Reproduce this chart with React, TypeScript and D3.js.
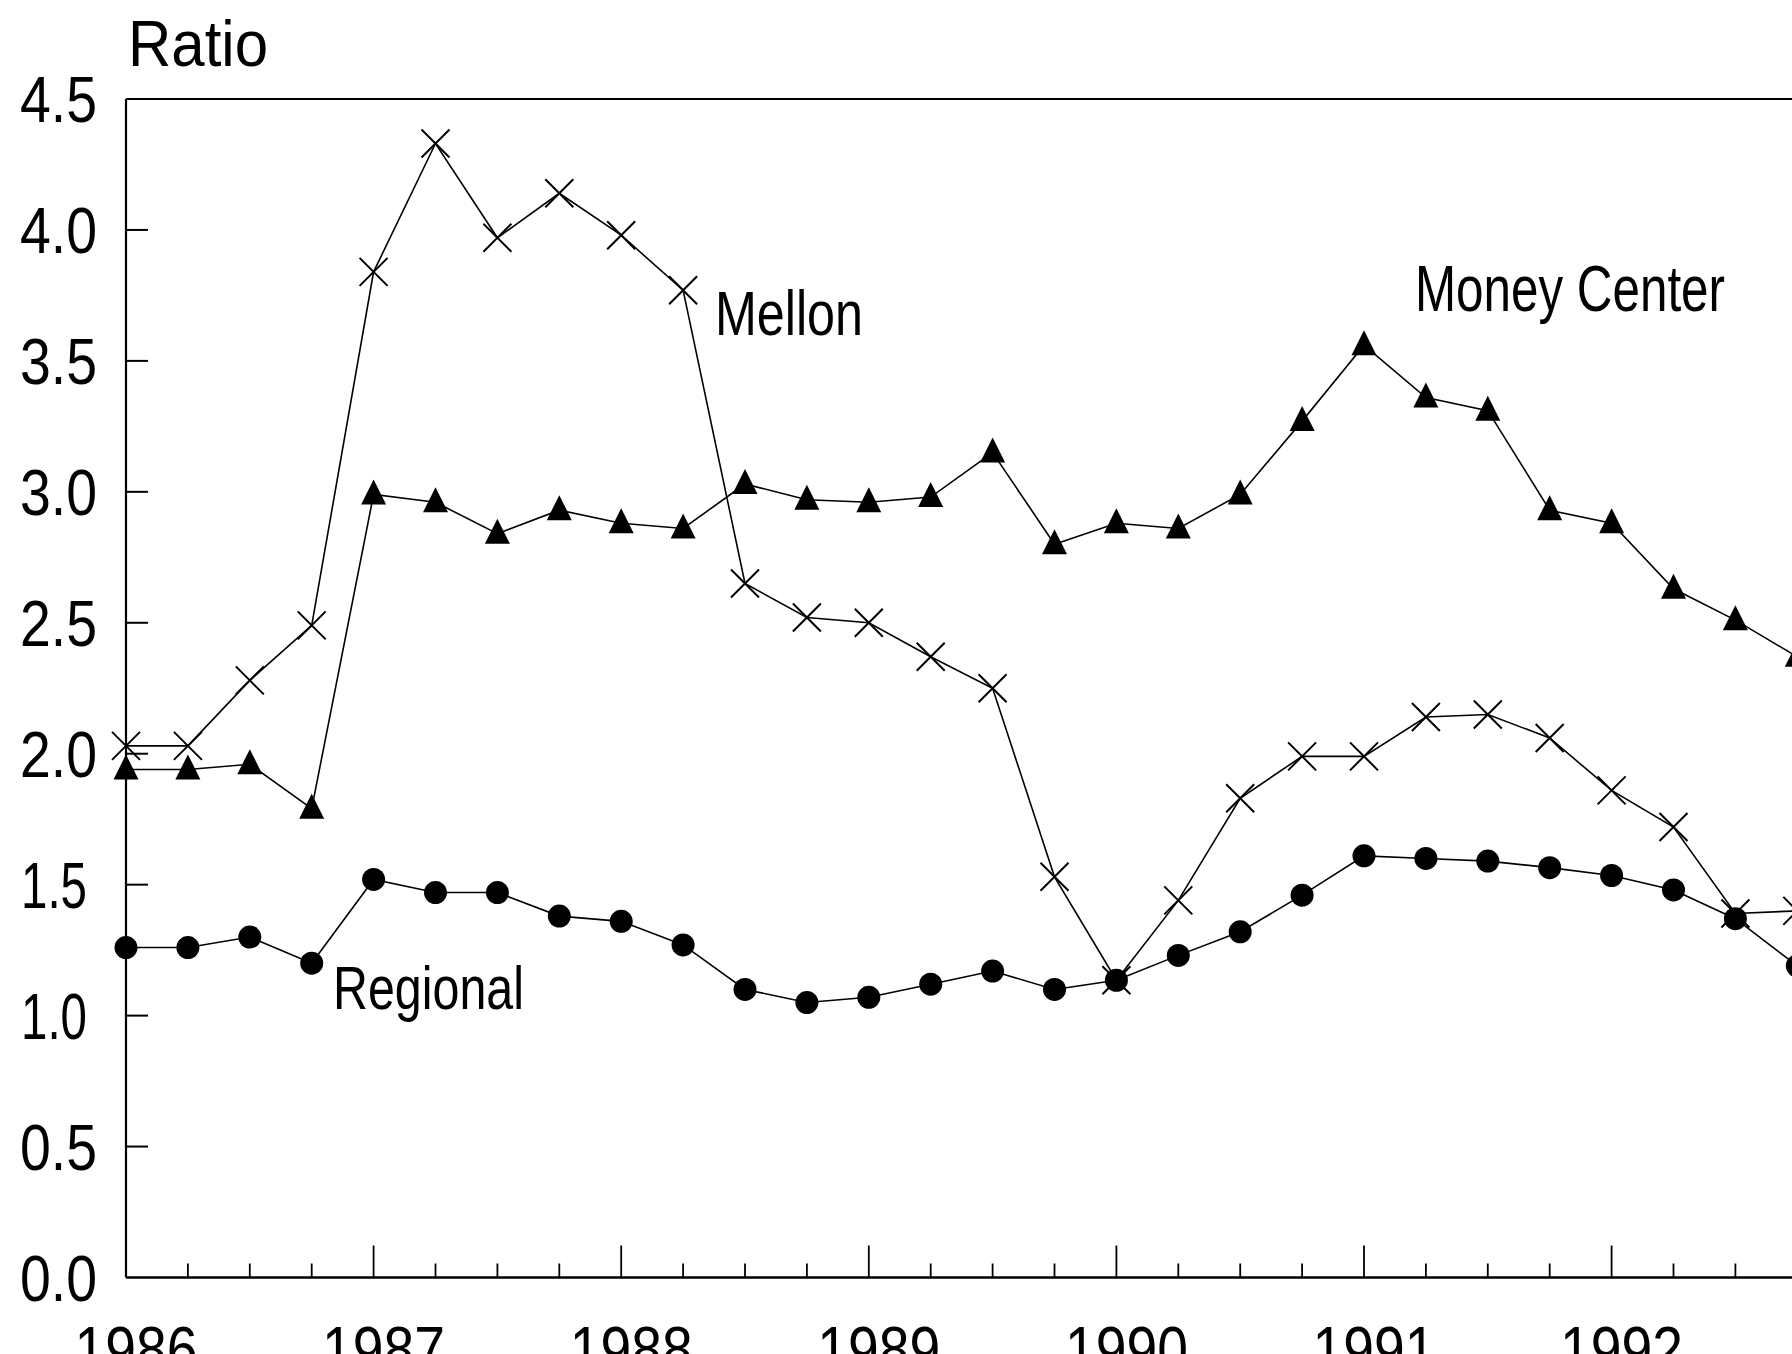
import React from "react";
import * as d3 from "d3";

const quarters = [
  1986.0, 1986.25, 1986.5, 1986.75,
  1987.0, 1987.25, 1987.5, 1987.75,
  1988.0, 1988.25, 1988.5, 1988.75,
  1989.0, 1989.25, 1989.5, 1989.75,
  1990.0, 1990.25, 1990.5, 1990.75,
  1991.0, 1991.25, 1991.5, 1991.75,
  1992.0, 1992.25, 1992.5, 1992.75,
];

const mellon = [
  2.03, 2.03, 2.28, 2.49,
  3.84, 4.33, 3.97, 4.14,
  3.98, 3.77, 2.65, 2.52,
  2.5, 2.37, 2.25, 1.53,
  1.135, 1.44, 1.83, 1.99,
  1.99, 2.14, 2.15, 2.06,
  1.86, 1.72, 1.39, 1.4,
];

const moneyCenter = [
  1.94, 1.94, 1.96, 1.79,
  2.99, 2.96, 2.84, 2.93,
  2.88, 2.86, 3.03, 2.97,
  2.96, 2.98, 3.15, 2.8,
  2.88, 2.86, 2.99, 3.27,
  3.56, 3.36, 3.31, 2.93,
  2.88, 2.63, 2.51, 2.37,
];

const regional = [
  1.26, 1.26, 1.3, 1.2,
  1.52, 1.47, 1.47, 1.38,
  1.36, 1.27, 1.1, 1.05,
  1.07, 1.12, 1.17, 1.1,
  1.135, 1.23, 1.32, 1.46,
  1.61, 1.6, 1.59, 1.565,
  1.535, 1.48, 1.37, 1.19,
];

const yTicks = [0, 0.5, 1.0, 1.5, 2.0, 2.5, 3.0, 3.5, 4.0, 4.5];
const yearTicks = [1986, 1987, 1988, 1989, 1990, 1991, 1992];
const minorTicks = [
  1986.25, 1986.5, 1986.75, 1987.25, 1987.5, 1987.75,
  1988.25, 1988.5, 1988.75, 1989.25, 1989.5, 1989.75,
  1990.25, 1990.5, 1990.75, 1991.25, 1991.5, 1991.75,
  1992.25, 1992.5,
];

const W = 1792;
const H = 1354;
const FONT = "'Liberation Sans', Arial, 'Noto Sans', sans-serif";

export default function App() {
  const x = d3.scaleLinear().domain([1986, 1992]).range([126, 1611.6]);
  const y = d3.scaleLinear().domain([0, 4.5]).range([1277.5, 99]);

  const line = d3
    .line<number>()
    .x((_, i) => x(quarters[i]))
    .y((d) => y(d));

  const left = x(1986);
  const bottom = y(0);
  const top = y(4.5);

  const xMark = (cx: number, cy: number, k: string) => {
    const s = 14;
    return (
      <path
        key={k}
        d={`M${cx - s},${cy - s}L${cx + s},${cy + s}M${cx - s},${cy + s}L${cx + s},${cy - s}`}
        stroke="#000"
        strokeWidth={2}
        fill="none"
      />
    );
  };

  const tri = (cx: number, cy: number, k: string) => (
    <path
      key={k}
      d={`M${cx},${cy - 15}L${cx + 12.5},${cy + 10}L${cx - 12.5},${cy + 10}Z`}
      fill="#000"
    />
  );

  return (
    <svg
      width={W}
      height={H}
      style={{ position: "absolute", left: 0, top: 0, background: "#fff" }}
      fontFamily={FONT}
    >
      <rect x={0} y={0} width={W} height={H} fill="#fff" />

      {/* axes frame */}
      <line x1={left} y1={top} x2={W} y2={top} stroke="#000" strokeWidth={2.2} />
      <line x1={left} y1={top} x2={left} y2={bottom} stroke="#000" strokeWidth={2.2} />
      <line x1={left} y1={bottom} x2={W} y2={bottom} stroke="#000" strokeWidth={2.4} />

      {/* y ticks (inward) */}
      {yTicks
        .filter((t) => t > 0 && t < 4.5)
        .map((t) => (
          <line key={"yt" + t} x1={left} x2={left + 22} y1={y(t)} y2={y(t)} stroke="#000" strokeWidth={2} />
        ))}
      {yTicks.map((t) => {
        const s = t.toFixed(1);
        const narrow = s.startsWith("1");
        return (
          <text
            key={"yl" + t}
            x={narrow ? 21 : 20}
            y={y(t) + 23}
            fontSize={65}
            textLength={narrow ? 66 : 77}
            lengthAdjust="spacingAndGlyphs"
            fill="#000"
          >
            {s}
          </text>
        );
      })}

      {/* x ticks (inward) */}
      {minorTicks.map((t) => (
        <line key={"mt" + t} x1={x(t)} x2={x(t)} y1={bottom} y2={bottom - 14} stroke="#000" strokeWidth={1.8} />
      ))}
      {yearTicks
        .filter((t) => t > 1986)
        .map((t) => (
          <line key={"xt" + t} x1={x(t)} x2={x(t)} y1={bottom} y2={bottom - 32} stroke="#000" strokeWidth={1.8} />
        ))}
      {yearTicks.map((t) => (
        <text
          key={"xl" + t}
          x={x(t) + 10}
          y={1372}
          fontSize={65}
          textAnchor="middle"
          textLength={123}
          lengthAdjust="spacingAndGlyphs"
          fill="#000"
        >
          {String(t)}
        </text>
      ))}

      {/* Ratio label */}
      <text x={128} y={66} fontSize={64} textLength={140} lengthAdjust="spacingAndGlyphs" fill="#000">
        Ratio
      </text>

      {/* series lines */}
      <path d={line(mellon) || ""} fill="none" stroke="#000" strokeWidth={1.6} />
      <path d={line(moneyCenter) || ""} fill="none" stroke="#000" strokeWidth={1.6} />
      <path d={line(regional) || ""} fill="none" stroke="#000" strokeWidth={1.6} />

      {/* markers */}
      {mellon.map((v, i) => xMark(x(quarters[i]), y(v), "m" + i))}
      {moneyCenter.map((v, i) => tri(x(quarters[i]), y(v), "t" + i))}
      {regional.map((v, i) => (
        <circle key={"c" + i} cx={x(quarters[i])} cy={y(v)} r={11.5} fill="#000" />
      ))}

      {/* series labels */}
      <text x={715} y={335} fontSize={63} textLength={148} lengthAdjust="spacingAndGlyphs" fill="#000">
        Mellon
      </text>
      <text x={1415} y={311} fontSize={64} textLength={310} lengthAdjust="spacingAndGlyphs" fill="#000">
        Money Center
      </text>
      <text x={333} y={1009} fontSize={62} textLength={191} lengthAdjust="spacingAndGlyphs" fill="#000">
        Regional
      </text>
    </svg>
  );
}
